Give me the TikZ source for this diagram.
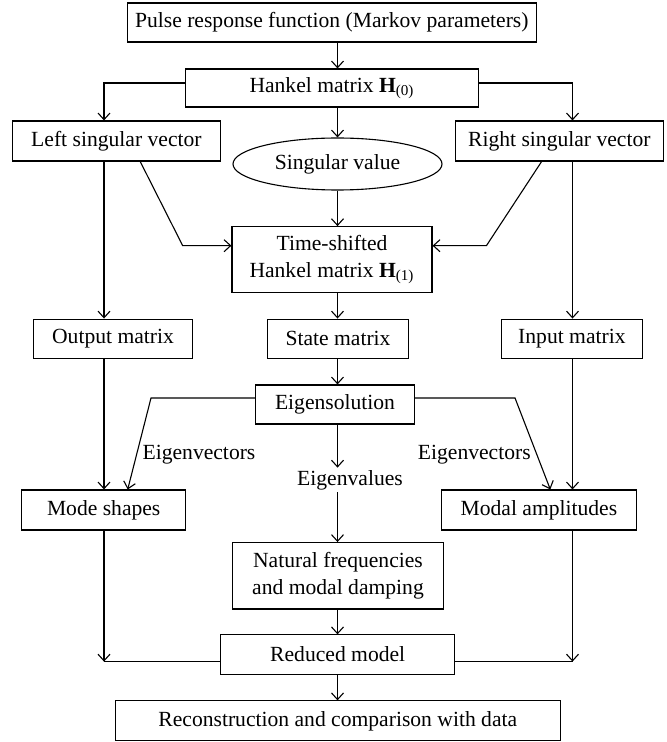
\documentclass[tikz,border=0pt]{standalone}
\usepackage{fontspec}
\setmainfont{Liberation Serif}
\usetikzlibrary{arrows.meta,shapes.geometric}

\begin{document}
\begin{tikzpicture}[x=0.5pt,y=-0.5pt,>={Straight Barb[length=3.3pt,width=6pt]},line width=0.55pt,
   blk/.style={draw,inner sep=1pt,align=center,font=\fontsize{10.8}{13.2}\selectfont},
   lbl/.style={inner sep=1pt,font=\fontsize{10.8}{13.2}\selectfont}]
   \useasboundingbox (0,0) rectangle (666,742);

   \node[blk,minimum width=204.5pt,minimum height=19.5pt] (pulse) at (331.8,22.5) {Pulse response function (Markov parameters)};
   \node[blk,minimum width=146.5pt,minimum height=19pt] (h0) at (332,88) {Hankel matrix \textbf{H}\textsubscript{(0)}};
   \node[blk,minimum width=103.7pt,minimum height=20pt] (lsv) at (116.4,141) {Left singular vector};
   \node[blk,minimum width=104.2pt,minimum height=20pt] (rsv) at (559.3,141) {Right singular vector};
   \node[blk,ellipse,inner sep=0pt,minimum width=104.5pt,minimum height=26pt] (sv) at (337.5,164) {Singular value};
   \node[blk,minimum width=100pt,minimum height=33pt] (h1) at (332,259.7) {Time-shifted\\Hankel matrix \textbf{H}\textsubscript{(1)}};
   \node[blk,minimum width=79.7pt,minimum height=19.6pt] (outm) at (113,338.7) {Output matrix};
   \node[blk,minimum width=70.5pt,minimum height=19.6pt] (stm) at (338,338.7) {State matrix};
   \node[blk,minimum width=70.2pt,minimum height=19.6pt] (inm) at (571.9,338.7) {Input matrix};
   \node[blk,minimum width=79.3pt,minimum height=19.5pt] (eig) at (335,404.5) {Eigensolution};
   \node[lbl] (evecl) at (199,455) {Eigenvectors};
   \node[lbl] (evecr) at (474.3,455) {Eigenvectors};
   \node[lbl] (evals) at (350,480) {Eigenvalues};
   \node[blk,minimum width=82pt,minimum height=20pt] (modes) at (103.7,510) {Mode shapes};
   \node[blk,minimum width=97.2pt,minimum height=20pt] (amps) at (538.9,510) {Modal amplitudes};
   \node[blk,minimum width=105.3pt,minimum height=33.2pt] (nat) at (338,575.8) {Natural frequencies\\and modal damping};
   \node[blk,minimum width=117pt,minimum height=19.7pt] (red) at (337.7,654.6) {Reduced model};
   \node[blk,minimum width=222.3pt,minimum height=19.9pt] (rec) at (337.8,720.8) {Reconstruction and comparison with data};

   \coordinate (colL) at (104,0);
   \coordinate (colM) at (337.5,0);
   \coordinate (colR) at (572.5,0);
   \coordinate (kl) at (182.7,245.7);
   \coordinate (kr) at (486.4,245.7);
   \coordinate (el) at (151,398);
   \coordinate (er) at (515,398);
   \coordinate (bl) at ([yshift=-3.5pt]red.west);
   \coordinate (br) at ([yshift=-3.5pt]red.east);

   \draw [->] (colM |- pulse.south) -- (colM |- h0.north) ;
   \draw [->] ([yshift=2.5pt]h0.west) -| (colL |- lsv.north) ;
   \draw [->] ([yshift=2.5pt]h0.east) -| (colR |- rsv.north) ;
   \draw [->] (colM |- h0.south) -- (sv) ;
   \draw [->] (sv) -- (colM |- h1.north) ;
   \draw [->] ([xshift=11.9pt]lsv.south) -- (kl) -- (kl -| h1.west) ;
   \draw [->] ([xshift=-8.85pt]rsv.south) -- (kr) -- (kr -| h1.east) ;
   \draw [->] (colL |- lsv.south) -- (colL |- outm.north) ;
   \draw [->] (colR |- rsv.south) -- (colR |- inm.north) ;
   \draw [->] (colM |- h1.south) -- (colM |- stm.north) ;
   \draw [->] (colM |- stm.south) -- (colM |- eig.north) ;
   \draw [->] (el -| eig.west) -- (el) -- ([xshift=12pt]modes.north) ;
   \draw [->] (er -| eig.east) -- (er) -- ([xshift=5.7pt]amps.north) ;
   \draw [->] (colM |- eig.south) -- (colM |- evals.north) ;
   \draw [->] (colM |- evals.south) -- (colM |- nat.north) ;
   \draw [->] (colL |- outm.south) -- (colL |- modes.north) ;
   \draw [->] (colR |- inm.south) -- (colR |- amps.north) ;
   \draw [->] (colM |- nat.south) -- (colM |- red.north) ;
   \draw [->] (colL |- modes.south) -- (colL |- bl) ;
   \draw (colL |- bl) -- (bl) ;
   \draw [->] (colR |- amps.south) -- (colR |- br) ;
   \draw (colR |- br) -- (br) ;
   \draw [->] (colM |- red.south) -- (colM |- rec.north) ;
\end{tikzpicture}
\end{document}
